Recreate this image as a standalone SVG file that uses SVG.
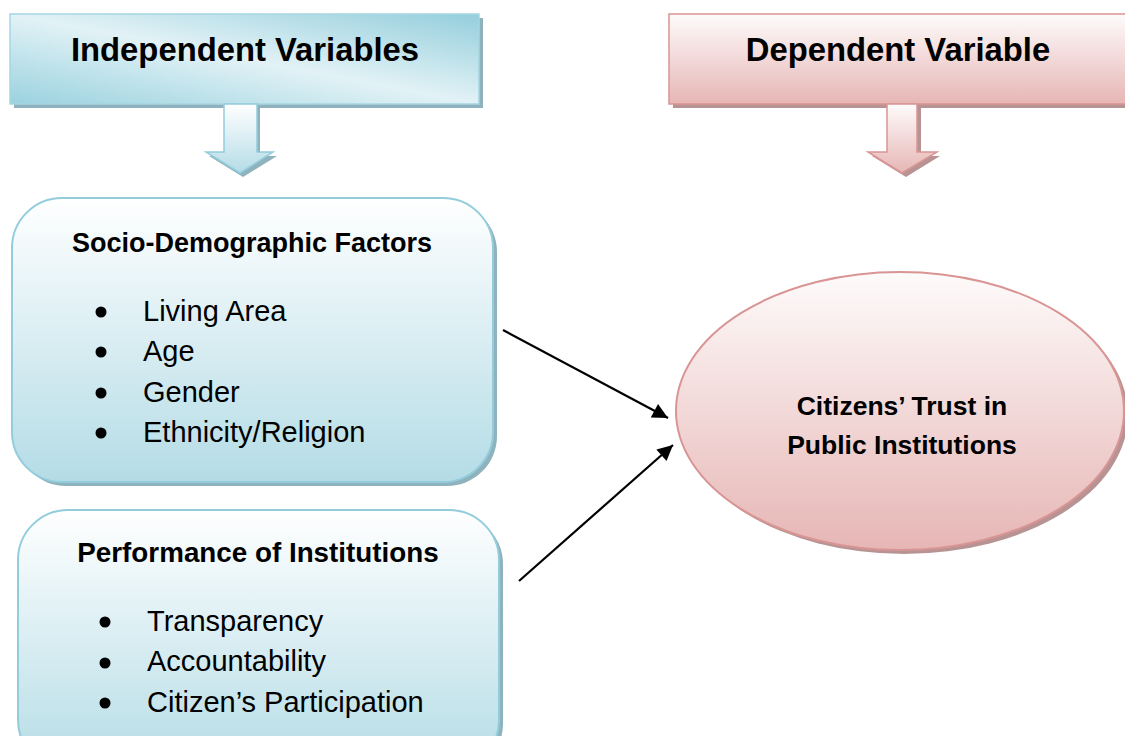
<svg xmlns="http://www.w3.org/2000/svg" width="1125" height="736" viewBox="0 0 1125 736">
<style>
.hdr{font-family:"Liberation Sans",Arial,sans-serif;font-weight:bold;font-size:32.8px;fill:#000;text-anchor:middle}
.ttl{font-family:"Liberation Sans",Arial,sans-serif;font-weight:bold;font-size:27px;fill:#000;text-anchor:middle}
.itm{font-family:"Liberation Sans",Arial,sans-serif;font-size:29px;fill:#000}
.ell{font-family:"Liberation Sans",Arial,sans-serif;font-weight:bold;font-size:26.5px;fill:#000;text-anchor:middle}
.blueS{fill:#8fb3bc}
.pinkS{fill:#b89393}
.conn{stroke:#000;stroke-width:2.2;fill:none}
</style>
<defs>
<linearGradient id="gHdrBlue" x1="0" y1="1" x2="1" y2="0">
<stop offset="0" stop-color="#9ad2df"/>
<stop offset="0.5" stop-color="#e2f2f6"/>
<stop offset="1" stop-color="#94cedc"/>
</linearGradient>
<linearGradient id="gBlueV" x1="0" y1="0" x2="0" y2="1">
<stop offset="0" stop-color="#ffffff"/>
<stop offset="1" stop-color="#b4dce6"/>
</linearGradient>
<linearGradient id="gPinkV" x1="0" y1="0" x2="0" y2="1">
<stop offset="0" stop-color="#fefbfb"/>
<stop offset="1" stop-color="#e6b6b5"/>
</linearGradient>
<marker id="ah" viewBox="0 0 10 10" refX="10" refY="5" markerWidth="8.5" markerHeight="7" markerUnits="strokeWidth" orient="auto">
<path d="M0,0 L10,5 L0,10 z" fill="#000"/>
</marker>
</defs>

<g id="independent-header">
<rect class="blueS" x="14" y="18" width="469" height="90"/>
<rect x="10" y="14" width="469" height="90" fill="url(#gHdrBlue)" stroke="#a6d6e2" stroke-width="1.5"/>
<text class="hdr" x="245" y="61">Independent Variables</text>
</g>
<g id="independent-arrow">
<path class="blueS" d="M228,108 L260,108 L260,156 L277,156 L243,177 L209,156 L228,156 z"/>
<path d="M224,104 L257,104 L257,152 L273,152 L240,173 L206,152 L224,152 z" fill="url(#gBlueV)" stroke="#93cddd" stroke-width="1.5"/>
</g>

<g id="dependent-header">
<rect class="pinkS" x="673" y="18" width="470" height="90"/>
<rect x="669" y="14" width="470" height="90" fill="url(#gPinkV)" stroke="#d99594" stroke-width="1.5"/>
<text class="hdr" x="898" y="61">Dependent Variable</text>
</g>
<g id="dependent-arrow">
<path class="pinkS" d="M891,108 L921,108 L921,156 L940,156 L906,177 L872,156 L891,156 z"/>
<path d="M887,104 L917,104 L917,152 L937,152 L902,173 L868,152 L887,152 z" fill="url(#gPinkV)" stroke="#d99594" stroke-width="1.5"/>
</g>

<g id="socio-demographic">
<rect class="blueS" x="16" y="202" width="481" height="284" rx="50"/>
<rect x="12" y="198" width="481" height="284" rx="50" fill="url(#gBlueV)" stroke="#93cddd" stroke-width="2"/>
<text class="ttl" x="252" y="252">Socio-Demographic Factors</text>
<circle cx="101" cy="312" r="5.5"/>
<text class="itm" x="143" y="321">Living Area</text>
<circle cx="101" cy="352" r="5.5"/>
<text class="itm" x="143" y="361">Age</text>
<circle cx="101" cy="393" r="5.5"/>
<text class="itm" x="143" y="402">Gender</text>
<circle cx="101" cy="433" r="5.5"/>
<text class="itm" x="143" y="442">Ethnicity/Religion</text>
</g>

<g id="performance">
<rect class="blueS" x="22" y="514" width="481" height="260" rx="50"/>
<rect x="18" y="510" width="481" height="260" rx="50" fill="url(#gBlueV)" stroke="#93cddd" stroke-width="2"/>
<text class="ttl" x="258" y="562" style="font-size:27.8px">Performance of Institutions</text>
<circle cx="105" cy="622" r="5.5"/>
<text class="itm" x="147" y="631">Transparency</text>
<circle cx="105" cy="663" r="5.5"/>
<text class="itm" x="147" y="671">Accountability</text>
<circle cx="105" cy="703" r="5.5"/>
<text class="itm" x="147" y="712">Citizen’s Participation</text>
</g>

<g id="citizens-trust">
<ellipse class="pinkS" cx="904" cy="415" rx="224" ry="139"/>
<ellipse cx="900" cy="411" rx="224" ry="139" fill="url(#gPinkV)" stroke="#d99594" stroke-width="2"/>
<text class="ell" x="902" y="415">Citizens’ Trust in</text>
<text class="ell" x="902" y="454">Public Institutions</text>
</g>

<g id="connectors">
<line class="conn" x1="503" y1="330" x2="668" y2="418" marker-end="url(#ah)"/>
<line class="conn" x1="519" y1="581" x2="673" y2="445" marker-end="url(#ah)"/>
</g>
</svg>
